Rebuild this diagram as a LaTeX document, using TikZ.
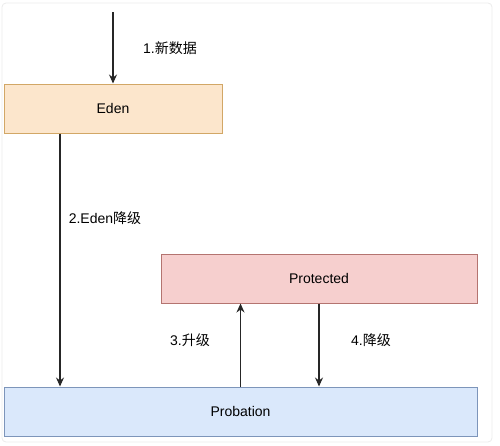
\documentclass[tikz,border=0pt]{standalone}
\usepackage{fontspec}
\setmainfont{Liberation Sans}
\newfontfamily\cjk{Noto Sans CJK SC}
\usepackage{xcolor}
\usepackage{tikz}
\usetikzlibrary{arrows.meta, positioning}

\definecolor{edenfill}{HTML}{FCE6CC}
\definecolor{edenline}{HTML}{D2A766}
\definecolor{protfill}{HTML}{F6CFCE}
\definecolor{protline}{HTML}{B47470}
\definecolor{probfill}{HTML}{DAE8FB}
\definecolor{probline}{HTML}{7D95BA}

\begin{document}
\begin{tikzpicture}[
        x=1pt, y=-1pt,
        font=\fontsize{14}{16}\selectfont,
        caixa/.style={draw, line width=1pt, minimum height=49pt, inner sep=0pt, anchor=center},
        rotulo/.style={inner sep=0pt, anchor=center},
        seta/.style={-{Stealth[length=9pt, width=8pt]}, line width=1.1pt, black!85}
    ]
    \useasboundingbox (0,0) rectangle (500,445);
    \draw[black!8, line width=0.8pt, rounded corners=4pt] (2,3) rectangle (492,442);

    \node[caixa, fill=edenfill, draw=edenline, minimum width=218pt] (eden) at (113,108.5) {Eden};
    \node[caixa, fill=protfill, draw=protline, minimum width=316pt] (protected) at (319,278.5) {Protected};
    \node[caixa, fill=probfill, draw=probline, minimum width=473pt] (probation) at (240.5,411.5) {Probation};

    \coordinate (entrada) at (113,12);
    \draw[seta] (entrada) -- (eden.north);
    \node[rotulo] (l1) at (170,48) {1.{\cjk 新数据}};

    \draw[seta] ([xshift=-53pt]eden.south) -- ([xshift=-53pt]eden.south |- probation.north);
    \node[rotulo] (l2) at (105,218) {2.Eden{\cjk 降级}};

    \draw[seta] (probation.north) -- (probation.north |- protected.south);
    \node[rotulo] (l3) at (190,340) {3.{\cjk 升级}};

    \draw[seta] (protected.south) -- (protected.south |- probation.north);
    \node[rotulo] (l4) at (371,340) {4.{\cjk 降级}};
\end{tikzpicture}
\end{document}
